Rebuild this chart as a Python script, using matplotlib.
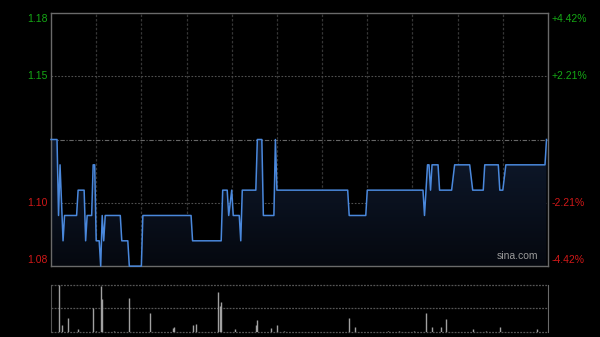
import matplotlib
matplotlib.use("Agg")
import matplotlib.pyplot as plt
import numpy as np
from matplotlib.colors import LinearSegmentedColormap

# ---- data ----
prev_close = 1.13
pct_levels = [4.42, 2.21, -2.21, -4.42]
left_labels = ["1.18", "1.15", "1.10", "1.08"]
right_labels = ["+4.42%", "+2.21%", "-2.21%", "-4.42%"]

# minutes from 09:30 (HK session, lunch removed), price vertices
price_min = [0, 4, 5, 6, 8, 9, 17, 18, 22, 23, 24, 27, 28, 29, 30, 32, 33, 34, 35, 36,
             46, 47, 51, 52, 60, 61, 93, 94, 113, 114, 117, 118, 120, 121, 125, 126, 127,
             136, 137, 140, 141, 148, 149, 150, 197, 198, 209, 210, 247, 248, 250, 251,
             252, 253, 257, 258, 266, 268, 278, 280, 287, 288, 297, 298, 300, 302, 328, 329]
price_val = [1.13, 1.13, 1.10, 1.12, 1.09, 1.10, 1.10, 1.11, 1.11, 1.09, 1.10, 1.10, 1.12, 1.12,
             1.09, 1.09, 1.08, 1.10, 1.09, 1.10,
             1.10, 1.09, 1.09, 1.08, 1.08, 1.10, 1.10, 1.09, 1.09, 1.11, 1.11, 1.10, 1.11, 1.10,
             1.10, 1.09, 1.11,
             1.11, 1.13, 1.13, 1.10, 1.10, 1.13, 1.11, 1.11, 1.10, 1.10, 1.11, 1.11, 1.10, 1.12, 1.12,
             1.11, 1.12, 1.12, 1.11, 1.11, 1.12, 1.12, 1.11, 1.11, 1.12, 1.12, 1.11, 1.11, 1.12, 1.12, 1.13]

vol_min = [5, 7, 11, 18, 28, 30, 33, 34, 42, 52, 66, 81, 82, 94, 96, 111, 112, 113, 122,
           136, 137, 146, 150, 155, 198, 202, 224, 231, 241, 249, 253, 259, 262, 280, 289, 298, 323]
vol_val = [100, 14, 29, 5, 50, 2, 98, 69, 2, 73, 39, 7, 11, 14, 16, 85, 54, 63, 5,
           14, 25, 7, 14, 2, 29, 11, 2, 2, 2, 41, 11, 9, 27, 6, 2, 9, 6]

grid_min = [30, 60, 90, 120, 150, 180, 210, 240, 270, 300]
total_min = 330

# ---- figure ----
fig = plt.figure(figsize=(6.0, 3.37), dpi=100, facecolor="black")
ax = fig.add_axes([51/600, 1-266/337, 497/600, 253/337], facecolor="black")
ax2 = fig.add_axes([51/600, 1-331.7/337, 497/600, 46.7/337], facecolor="black")

ymin = prev_close * (1 - 0.0442)
ymax = prev_close * (1 + 0.0442)
ax.set_xlim(0, total_min)
ax.set_ylim(ymin, ymax)

# gradient fill under line
poly = ax.fill_between(price_min, price_val, ymin, facecolor="none", edgecolor="none")
cmap = LinearSegmentedColormap.from_list("g", ["#05080f", "#0f1a2e"])
grad = np.linspace(0, 1, 256).reshape(-1, 1)
img = ax.imshow(grad, extent=[0, total_min, ymin, 1.13], aspect="auto", cmap=cmap,
                origin="lower", zorder=1)
img.set_clip_path(poly.get_paths()[0], transform=ax.transData)

# grid
for m in grid_min:
    ax.axvline(m, color="#363636", lw=0.9, ls=(0, (2, 1.5)), zorder=0.5)
for p in [2.21, -2.21]:
    ax.axhline(prev_close * (1 + p / 100), color="#505050", lw=0.8, ls=(0, (1.5, 1.5)), zorder=0.5)
ax.axhline(prev_close, color="#666666", lw=0.8, ls=(0, (4, 1.5, 1, 1.5)), zorder=0.5)

ax.plot(price_min, price_val, color="#4a88dc", lw=1.1, zorder=3, clip_on=False)

for s in ax.spines.values():
    s.set_color("#6a6a6a")
    s.set_linewidth(1.0)
ax.set_xticks([])
ax.set_yticks([])

green = "#15a815"
red = "#d01818"
offsets = [-6, 0, 0, 6]
for p, ll, rl, off in zip(pct_levels, left_labels, right_labels, offsets):
    y = prev_close * (1 + p / 100)
    c = green if p > 0 else red
    ax.annotate(ll, xy=(0, y), xycoords=("axes fraction", "data"), xytext=(-3, off),
                textcoords="offset pixels", ha="right", va="center", color=c,
                fontsize=7.5, family="Liberation Sans", annotation_clip=False)
    ax.annotate(rl, xy=(1, y), xycoords=("axes fraction", "data"), xytext=(4, off),
                textcoords="offset pixels", ha="left", va="center", color=c,
                fontsize=7.5, family="Liberation Sans", annotation_clip=False)

ax.text(0.98, 0.02, "sina.com", transform=ax.transAxes, ha="right", va="bottom",
        color="#9a9a9a", fontsize=7.5, family="Liberation Sans", zorder=4)

# volume panel
ax2.set_xlim(0, total_min)
ax2.set_ylim(0, 100)
ax2.vlines(vol_min, 0, vol_val, color="#a0a0a0", lw=1.0, zorder=3)
for yy in [0, 50, 100]:
    ax2.axhline(yy, color="#555555", lw=0.9, ls=(0, (1.5, 1)), zorder=1, clip_on=False)
for s in ["top", "bottom"]:
    ax2.spines[s].set_visible(False)
ax2.spines["left"].set_color("#555555")
ax2.spines["right"].set_color("#6a6a6a")
ax2.set_xticks([])
ax2.set_yticks([])

fig.savefig("out.png", dpi=100, facecolor="black")
